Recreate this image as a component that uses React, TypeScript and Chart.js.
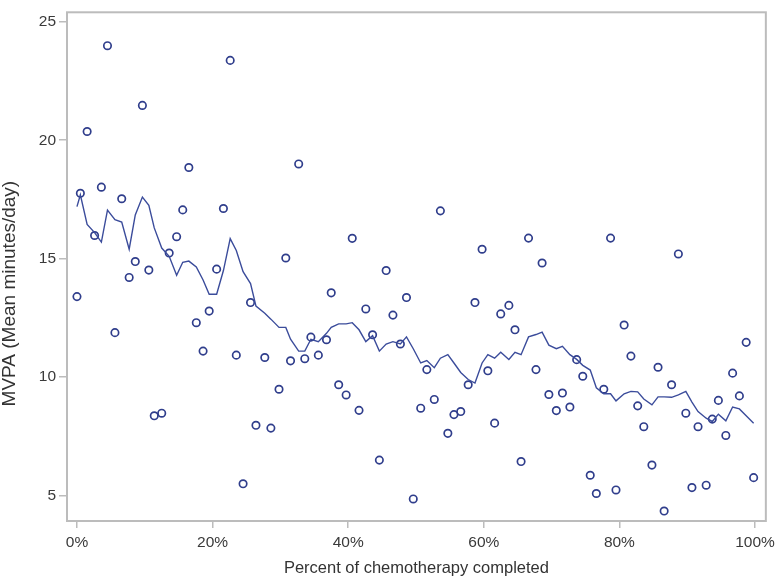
import React, { useEffect, useRef } from "react";
import { Chart, registerables } from "chart.js";

Chart.register(...registerables);

const pctCompleted: number[] = [
  0.0, 0.5, 1.5, 2.6, 3.6, 4.5, 5.6, 6.6, 7.7, 8.6,
  9.65, 10.6, 11.4, 12.5, 13.6, 14.7, 15.6, 16.5, 17.6, 18.6,
  19.5, 20.6, 21.6, 22.6, 23.5, 24.5, 25.6, 26.4, 27.7, 28.6,
  29.8, 30.8, 31.5, 32.7, 33.6, 34.5, 35.6, 36.8, 37.5, 38.6,
  39.7, 40.6, 41.6, 42.6, 43.6, 44.6, 45.6, 46.6, 47.7, 48.6,
  49.6, 50.7, 51.6, 52.7, 53.6, 54.7, 55.6, 56.6, 57.7, 58.7,
  59.75, 60.6, 61.6, 62.5, 63.7, 64.6, 65.5, 66.6, 67.7, 68.6,
  69.6, 70.7, 71.6, 72.7, 73.7, 74.6, 75.7, 76.6, 77.7, 78.7,
  79.5, 80.7, 81.7, 82.7, 83.6, 84.8, 85.7, 86.6, 87.7, 88.7,
  89.8, 90.7, 91.6, 92.8, 93.7, 94.6, 95.7, 96.7, 97.7, 98.7,
  99.8,
];

const mvpaObserved: number[] = [
  13.4, 17.76, 20.37, 15.98, 18.02, 23.99, 11.88, 17.53, 14.21, 14.88,
  21.47, 14.52, 8.37, 8.48, 15.24, 15.93, 17.06, 18.85, 12.3, 11.1,
  12.79, 14.56, 17.12, 23.37, 10.93, 5.5, 13.15, 7.97, 10.83, 7.85,
  9.49, 15.03, 10.69, 19.0, 10.78, 11.69, 10.93, 11.58, 13.56, 9.68,
  9.25, 15.86, 8.6, 12.88, 11.79, 6.5, 14.5, 12.62, 11.4, 13.36,
  4.86, 8.69, 10.32, 9.06, 17.02, 7.63, 8.42, 8.55, 9.68, 13.15,
  15.4, 10.27, 8.06, 12.67, 13.03, 12.0, 6.44, 15.87, 10.32, 14.82,
  9.27, 8.59, 9.33, 8.74, 10.74, 10.04, 5.86, 5.09, 9.49, 15.87,
  5.24, 12.2, 10.89, 8.79, 7.91, 6.29, 10.42, 4.35, 9.68, 15.2,
  8.48, 5.34, 7.91, 5.44, 8.23, 9.02, 7.54, 10.17, 9.21, 11.47,
  5.76,
];

const mvpaSmoothed: number[] = [
  17.2, 17.7, 16.45, 16.1, 15.7, 17.05, 16.65, 16.55, 15.4, 16.85,
  17.6, 17.25, 16.3, 15.45, 15.1, 14.3, 14.85, 14.9, 14.65, 14.1,
  13.5, 13.5, 14.5, 15.85, 15.35, 14.45, 13.95, 13.0, 12.7, 12.45,
  12.1, 12.1, 11.6, 11.1, 11.1, 11.6, 11.5, 11.85, 12.1, 12.25,
  12.25, 12.3, 12.0, 11.5, 11.75, 11.1, 11.4, 11.5, 11.4, 11.7,
  11.2, 10.6, 10.7, 10.4, 10.8, 10.95, 10.6, 10.2, 9.9, 9.75,
  10.6, 10.95, 10.8, 11.05, 10.75, 11.05, 10.95, 11.7, 11.8, 11.9,
  11.35, 11.2, 11.3, 10.95, 10.75, 10.5, 10.3, 9.55, 9.3, 9.3,
  9.0, 9.3, 9.4, 9.38, 9.08, 8.83, 9.17, 9.17, 9.15, 9.25,
  9.4, 8.95, 8.55, 8.27, 8.13, 8.44, 8.16, 8.74, 8.66, 8.37,
  8.06,
];

const xTickValues: number[] = [0, 20, 40, 60, 80, 100];
const yTickValues: number[] = [5, 10, 15, 20, 25];

const xTitle = "Percent of chemotherapy completed";
const yTitle = "MVPA (Mean minutes/day)";

const fontFamily = "'Liberation Sans', Arial, sans-serif";

const framePlugin = {
  id: "frame",
  afterDatasetsDraw(chart: any) {
    const { ctx, chartArea } = chart;
    ctx.save();
    ctx.strokeStyle = "#bcbcbc";
    ctx.lineWidth = 2;
    ctx.strokeRect(
      chartArea.left,
      chartArea.top,
      chartArea.right - chartArea.left,
      chartArea.bottom - chartArea.top
    );
    ctx.restore();
  },
};

const yTitlePlugin = {
  id: "yTitleText",
  afterDraw(chart: any) {
    const { ctx, chartArea } = chart;
    const cy = chartArea.top + (chartArea.bottom - chartArea.top) * 0.553;
    ctx.save();
    ctx.translate(10, cy);
    ctx.rotate(-Math.PI / 2);
    ctx.font = `19px ${fontFamily}`;
    ctx.fillStyle = "#333333";
    ctx.textAlign = "center";
    ctx.textBaseline = "middle";
    ctx.fillText(yTitle, 0, 0);
    ctx.restore();
  },
};

export default function App() {
  const canvasRef = useRef<HTMLCanvasElement | null>(null);

  useEffect(() => {
    if (!canvasRef.current) return;
    const chart = new Chart(canvasRef.current, {
      type: "scatter",
      data: {
        datasets: [
          {
            label: "Smoothed",
            data: pctCompleted.map((x, i) => ({ x, y: mvpaSmoothed[i] })),
            showLine: true,
            borderColor: "#3b4c9b",
            borderWidth: 1.4,
            pointRadius: 0,
            tension: 0,
            fill: false,
          },
          {
            label: "Observed",
            data: pctCompleted.map((x, i) => ({ x, y: mvpaObserved[i] })),
            showLine: false,
            pointRadius: 3.7,
            pointBorderWidth: 1.7,
            pointBackgroundColor: "rgba(255,255,255,0)",
            pointBorderColor: "#303e8c",
          },
        ],
      },
      options: {
        animation: false,
        responsive: false,
        maintainAspectRatio: false,
        layout: { padding: { left: 0, top: 4, right: 12, bottom: 0 } },
        plugins: {
          legend: { display: false },
          tooltip: { enabled: false },
        },
        scales: {
          x: {
            type: "linear",
            min: -1.47,
            max: 101.6,
            afterBuildTicks: (scale: any) => {
              scale.ticks = xTickValues.map((v) => ({ value: v }));
            },
            afterFit: (scale: any) => {
              scale.height = 60;
            },
            ticks: {
              callback: (v: any) => `${v}%`,
              color: "#3a3a3a",
              font: { family: fontFamily, size: 15.5 },
              padding: 5,
              maxRotation: 0,
            },
            grid: {
              display: true,
              drawOnChartArea: false,
              drawTicks: true,
              tickLength: 7,
              color: "#bcbcbc",
              lineWidth: 1.5,
            },
            border: { display: false },
            title: {
              display: true,
              text: xTitle,
              color: "#333333",
              font: { family: fontFamily, size: 16.5 },
              padding: { top: 0, bottom: 3 },
            },
          },
          y: {
            type: "linear",
            min: 3.93,
            max: 25.4,
            afterBuildTicks: (scale: any) => {
              scale.ticks = yTickValues.map((v) => ({ value: v }));
            },
            afterFit: (scale: any) => {
              scale.width = 67;
            },
            ticks: {
              color: "#3a3a3a",
              font: { family: fontFamily, size: 15.5 },
              padding: 3,
            },
            grid: {
              display: true,
              drawOnChartArea: false,
              drawTicks: true,
              tickLength: 8,
              color: "#bcbcbc",
              lineWidth: 1.5,
            },
            border: { display: false },
            title: { display: false, text: yTitle },
          },
        },
      },
      plugins: [framePlugin, yTitlePlugin],
    } as any);
    return () => chart.destroy();
  }, []);

  return (
    <div
      style={{
        position: "fixed",
        left: 0,
        top: 0,
        width: 780,
        height: 581,
        background: "#ffffff",
      }}
    >
      <canvas ref={canvasRef} width={780} height={581} style={{ display: "block" }} />
    </div>
  );
}
